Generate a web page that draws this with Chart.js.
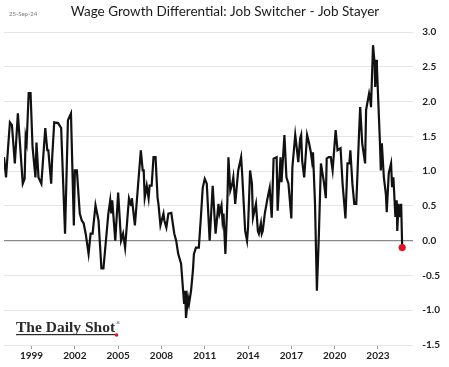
<!DOCTYPE html>
<html>
<head>
<meta charset="utf-8">
<script src="https://cdn.jsdelivr.net/npm/chart.js@4/dist/chart.umd.min.js"></script>
<style>
  html, body { margin: 0; padding: 0; background: #fff; }
  #wrap { width: 449px; height: 367px; position: relative; }
</style>
</head>
<body>
<div id="wrap"><canvas id="wageChart"></canvas></div>
<script>
// decimal years
const dates = [
    1997.09, 1997.23, 1997.36, 1997.50, 1997.64, 1997.84, 1997.91, 1998.05, 1998.39, 1998.52,
    1998.59, 1998.66, 1998.80, 1998.93, 1999.07, 1999.27, 1999.34, 1999.48, 1999.68, 1999.95,
    2000.09, 2000.16, 2000.36, 2000.43, 2000.57, 2000.84, 2001.05, 2001.32, 2001.52, 2001.73,
    2001.93, 2002.00, 2002.14, 2002.34, 2002.48, 2002.61, 2002.75, 2002.95, 2003.09, 2003.23,
    2003.43, 2003.64, 2003.84, 2003.98, 2004.32, 2004.45, 2004.52, 2004.59, 2004.80, 2005.00,
    2005.20, 2005.34, 2005.48, 2005.75, 2005.89, 2005.95, 2006.16, 2006.57, 2006.70, 2006.77,
    2006.84, 2006.98, 2007.11, 2007.18, 2007.32, 2007.45, 2007.59, 2007.73, 2007.80, 2007.93,
    2008.14, 2008.20, 2008.34, 2008.48, 2008.68, 2008.89, 2009.02, 2009.16, 2009.36, 2009.50,
    2009.57, 2009.64, 2009.70, 2009.84, 2009.91, 2010.05, 2010.18, 2010.25, 2010.39, 2010.52,
    2010.59, 2010.73, 2010.86, 2011.00, 2011.14, 2011.34, 2011.55, 2011.75, 2011.95, 2012.02,
    2012.16, 2012.23, 2012.30, 2012.43, 2012.57, 2012.64, 2012.77, 2012.91, 2012.98, 2013.11,
    2013.32, 2013.52, 2013.59, 2013.80, 2013.93, 2014.00, 2014.14, 2014.27, 2014.34, 2014.55,
    2014.68, 2014.75, 2014.89, 2014.95, 2015.02, 2015.16, 2015.36, 2015.50, 2015.64, 2015.77,
    2015.98, 2016.05, 2016.25, 2016.32, 2016.52, 2016.66, 2016.80, 2017.00, 2017.07, 2017.27,
    2017.34, 2017.48, 2017.61, 2017.68, 2017.75, 2017.89, 2018.02, 2018.09, 2018.23, 2018.36,
    2018.43, 2018.50, 2018.64, 2018.77, 2018.91, 2019.05, 2019.25, 2019.39, 2019.45, 2019.59,
    2019.73, 2019.86, 2020.07, 2020.20, 2020.41, 2020.55, 2020.75, 2020.89, 2021.02, 2021.09,
    2021.23, 2021.36, 2021.50, 2021.70, 2021.77, 2021.91, 2022.11, 2022.18, 2022.39, 2022.45,
    2022.52, 2022.66, 2022.77, 2022.81, 2022.88, 2022.93, 2023.14, 2023.20, 2023.27, 2023.41,
    2023.55, 2023.61, 2023.75, 2023.91, 2023.98, 2024.07, 2024.21, 2024.30, 2024.34, 2024.43,
    2024.52, 2024.61, 2024.68
];

const diffValues = [
    1.20, 0.91, 1.30, 1.70, 1.66, 1.11, 1.34, 1.83, 0.82, 0.89,
    1.49, 1.41, 2.12, 2.12, 1.34, 0.91, 1.41, 0.91, 0.82, 1.62,
    1.30, 1.30, 0.82, 1.20, 1.70, 1.69, 1.62, 0.10, 1.73, 1.83,
    0.22, 1.01, 1.01, 0.39, 0.29, 0.25, 0.10, -0.19, 0.10, 0.10,
    0.51, 0.29, -0.40, -0.40, 0.39, 0.58, 0.39, 0.58, 0.00, 0.69,
    0.00, 0.10, -0.10, 0.61, 0.51, 0.61, 0.22, 1.30, 1.01, 1.01,
    0.62, 0.79, 0.61, 0.79, 0.79, 1.20, 1.20, 0.62, 0.51, 0.22,
    0.39, 0.29, 0.19, 0.39, 0.40, 0.10, 0.00, -0.19, -0.33, -0.72,
    -0.91, -0.72, -1.11, -0.82, -0.91, -0.72, -0.43, -0.19, -0.10, -0.10,
    -0.10, 0.33, 0.76, 0.89, 0.82, 0.00, 0.79, 0.10, 0.53, 0.39,
    0.51, 0.29, 0.39, -0.19, 0.58, 1.20, 0.72, 0.82, 0.91, 0.53,
    1.01, 1.20, 0.97, 0.14, 0.00, 0.19, 1.01, 0.82, 0.33, 0.53,
    0.14, 0.10, 0.25, 0.10, 0.14, 0.39, 0.62, 0.76, 0.33, 1.18,
    1.20, 0.43, 1.20, 0.84, 1.52, 0.91, 0.82, 0.32, 1.05, 1.52,
    1.40, 1.13, 1.47, 1.52, 1.15, 0.91, 1.30, 1.52, 1.40, 1.26,
    1.15, 1.27, 0.53, -0.72, 0.10, 1.11, 0.85, 0.61, 1.18, 1.20,
    1.20, 1.01, 1.59, 1.30, 1.33, 0.82, 0.32, 1.11, 1.11, 1.30,
    0.82, 0.53, 0.53, 1.59, 1.92, 1.40, 1.11, 1.88, 2.12, 2.06,
    1.92, 2.81, 2.55, 2.21, 2.60, 2.50, 1.40, 1.01, 1.40, 0.91,
    0.67, 0.41, 0.97, 1.11, 0.77, 0.91, 0.34, 0.58, 0.14, 0.53,
    0.34, 0.53, -0.10
];

const yearTicks = [1999, 2002, 2005, 2008, 2011, 2014, 2017, 2020, 2023];
const yMin = -1.5;
const yMax = 3.0;

const titleText = 'Wage Growth Differential: Job Switcher - Job Stayer';
const dateText = '25-Sep-24';
const logoText = 'The Daily Shot';

// title, date stamp and logo drawn straight on the canvas
const decorations = {
    id: 'decorations',
    afterDraw(chart) {
        const ctx = chart.ctx;
        ctx.save();

        ctx.textBaseline = 'middle';
        ctx.fillStyle = '#777';
        ctx.font = '6px Lato';
        ctx.textAlign = 'left';
        ctx.fillText(dateText, 9, 14);

        ctx.fillStyle = '#1a1a1a';
        ctx.font = '13.5px Lato';
        ctx.textAlign = 'center';
        ctx.fillText(titleText, 225, 12);

        ctx.textAlign = 'left';
        ctx.textBaseline = 'alphabetic';
        ctx.font = 'bold 15.5px "Liberation Serif"';
        ctx.fillStyle = '#2a2a2a';
        ctx.fillText(logoText, 16, 332);
        const w = ctx.measureText(logoText).width;
        ctx.fillRect(16, 334, w, 1.2);
        ctx.font = '6px "Liberation Serif"';
        ctx.fillText('®', 16 + w + 0.5, 325);
        ctx.fillStyle = '#e0141e';
        ctx.beginPath();
        ctx.arc(16 + w + 1.5, 335, 1.8, 0, Math.PI * 2);
        ctx.fill();

        ctx.restore();
    }
};

Chart.defaults.font.family = 'Lato';

const lastIndex = dates.length - 1;

new Chart(document.getElementById('wageChart').getContext('2d'), {
    type: 'line',
    data: {
        datasets: [{
            data: dates.map((d, i) => ({ x: d, y: diffValues[i] })),
            borderColor: '#111',
            borderWidth: 2.2,
            tension: 0,
            fill: false,
            pointRadius: ctx => ctx.dataIndex === lastIndex ? 3.6 : 0,
            pointBackgroundColor: '#e0141e',
            pointBorderWidth: 0
        }]
    },
    options: {
        responsive: true,
        maintainAspectRatio: false,
        animation: false,
        events: [],
        layout: {
            padding: { top: 32, left: 0, right: 0, bottom: 4 }
        },
        plugins: {
            legend: { display: false },
            tooltip: { enabled: false }
        },
        scales: {
            x: {
                type: 'linear',
                min: 1997.09,
                max: 2025.45,
                afterBuildTicks: axis => {
                    axis.ticks = yearTicks.map(v => ({ value: v }));
                },
                ticks: {
                    autoSkip: false,
                    maxRotation: 0,
                    padding: 1,
                    color: '#222',
                    font: { size: 10, weight: 'bold' },
                    callback: v => String(v)
                },
                grid: {
                    drawOnChartArea: false,
                    tickLength: 4,
                    color: '#999'
                },
                border: { display: false }
            },
            y: {
                position: 'right',
                min: yMin,
                max: yMax,
                ticks: {
                    stepSize: 0.5,
                    padding: 9,
                    color: '#222',
                    font: { size: 10, weight: 'bold' },
                    callback: v => v.toFixed(1)
                },
                grid: {
                    drawTicks: false,
                    color: ctx => ctx.tick && ctx.tick.value === 0 ? '#8a8a8a' : '#e6e6e6',
                    lineWidth: ctx => ctx.tick && ctx.tick.value === 0 ? 1.2 : 1
                },
                border: { display: false }
            }
        }
    },
    plugins: [decorations]
});
</script>
</body>
</html>
